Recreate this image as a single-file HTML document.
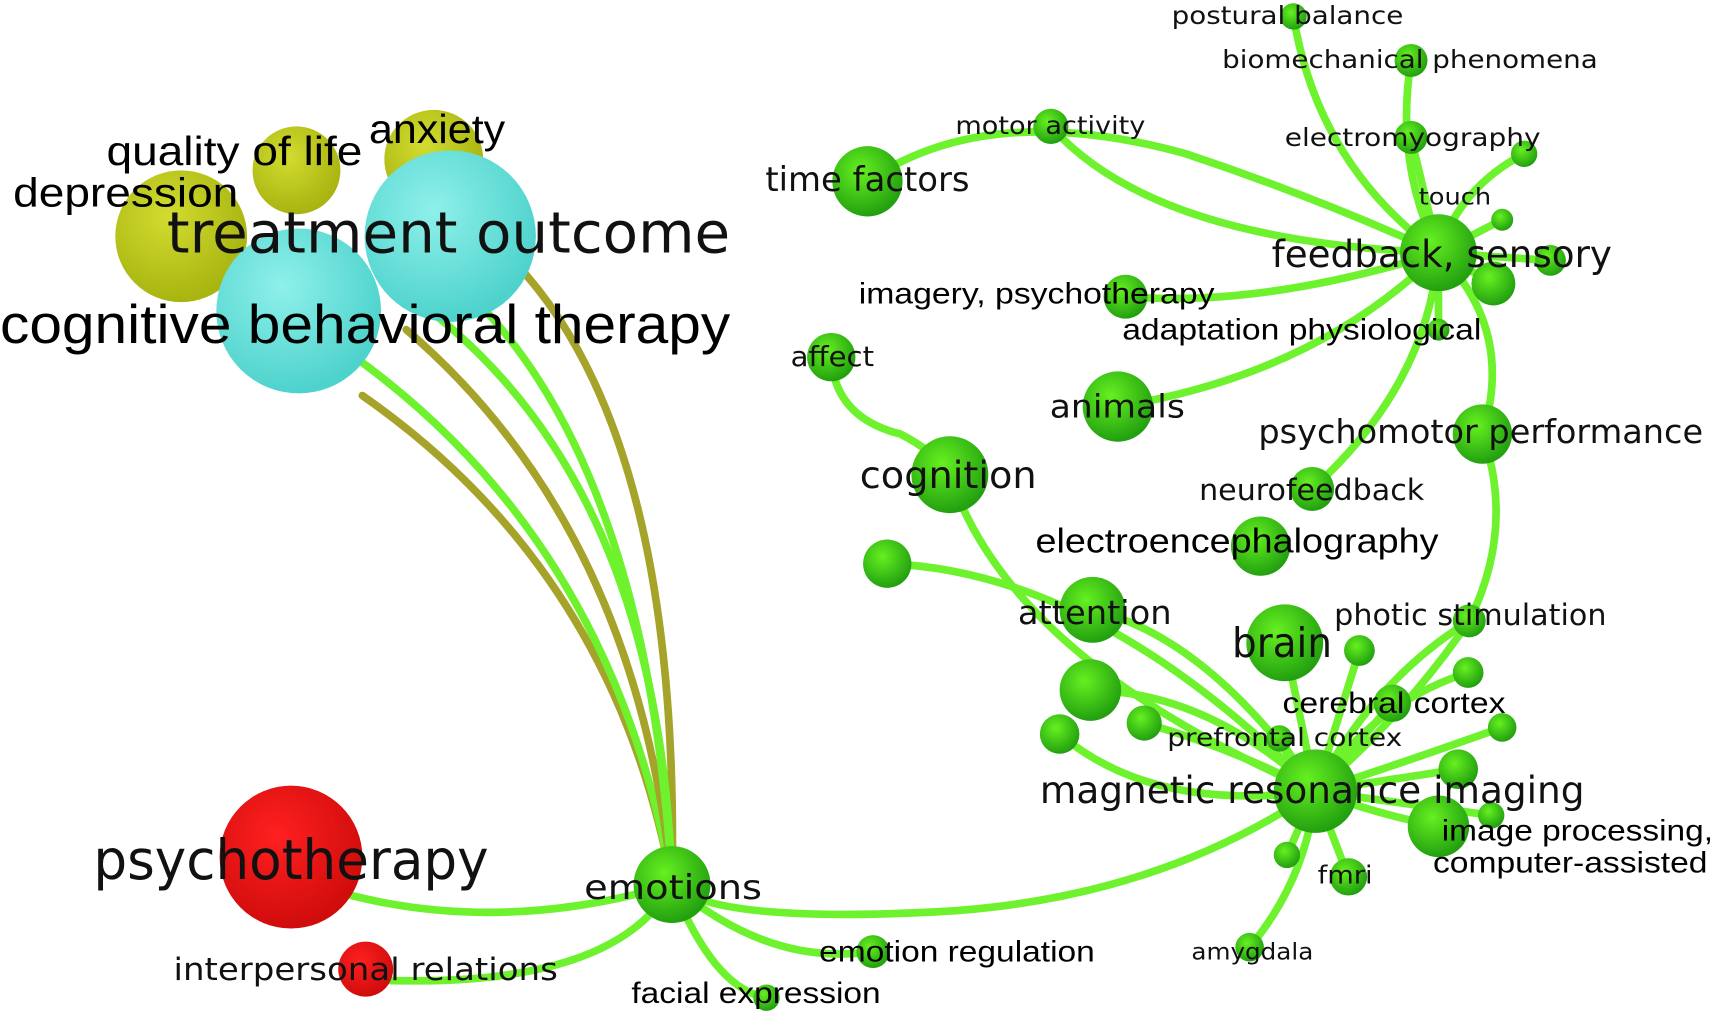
<!DOCTYPE html>
<html><head><meta charset="utf-8"><style>
html,body{margin:0;padding:0;background:#fff;width:1713px;height:1023px;overflow:hidden}
svg{display:block}
.o{font-family:"DejaVu Sans","Liberation Sans",sans-serif;fill:#111}
.a{font-family:"Liberation Sans",sans-serif;fill:#000}
</style></head><body>
<svg width="1713" height="1023" viewBox="0 0 1560 931" preserveAspectRatio="none" xmlns="http://www.w3.org/2000/svg">
<defs>
<radialGradient id="g" cx="40%" cy="35%" r="65%"><stop offset="0" stop-color="#66f020"/><stop offset="1" stop-color="#22a010"/></radialGradient>
<radialGradient id="c" cx="40%" cy="35%" r="65%"><stop offset="0" stop-color="#8ff0ea"/><stop offset="1" stop-color="#4ed2cc"/></radialGradient>
<radialGradient id="y" cx="40%" cy="35%" r="65%"><stop offset="0" stop-color="#d2dc30"/><stop offset="1" stop-color="#a8b410"/></radialGradient>
<radialGradient id="r" cx="40%" cy="35%" r="65%"><stop offset="0" stop-color="#ff2020"/><stop offset="1" stop-color="#d00c0c"/></radialGradient>
</defs>
<g fill="none" stroke="#6ef22e" stroke-width="7" stroke-linecap="round">
<path d="M612 805 Q560 520 330 360" stroke="#a5a32a"/>
<path d="M612 805 Q560 500 330 330"/>
<path d="M612 805 Q580 480 370 300" stroke="#a5a32a"/>
<path d="M612 805 Q590 430 430 270"/>
<path d="M612 805 Q620 400 470 240" stroke="#a5a32a"/>
<path d="M612 805 Q600 420 360 260"/>
<path d="M612 805 Q460 850 320 815"/>
<path d="M612 805 Q560 900 345 892"/>
<path d="M612 805 Q700 880 795 866"/>
<path d="M612 805 Q650 900 698 908"/>
<path d="M612 805 Q650 840 850 830 Q1050 820 1198 720"/>
<path d="M790 165 Q900 90 1080 140 Q1200 180 1310 230"/>
<path d="M957 115 Q1050 220 1310 230"/>
<path d="M1178 15 Q1200 150 1310 230"/>
<path d="M1285 55 Q1270 150 1310 230"/>
<path d="M1285 125 L1310 230"/>
<path d="M1388 140 Q1330 170 1310 230"/>
<path d="M1368 200 L1310 230"/>
<path d="M1360 258 L1310 230"/>
<path d="M1412 237 L1310 230"/>
<path d="M1025 270 Q1150 280 1310 230"/>
<path d="M1310 300 L1310 230"/>
<path d="M1018 370 Q1200 340 1310 230"/>
<path d="M1350 395 Q1380 300 1310 230"/>
<path d="M1195 445 Q1300 350 1310 230"/>
<path d="M1350 395 Q1380 480 1338 565 Q1280 650 1198 720"/>
<path d="M757 325 Q760 380 820 395 Q850 410 865 432"/>
<path d="M865 432 Q920 600 1198 720"/>
<path d="M808 513 Q1000 520 1198 720"/>
<path d="M995 555 Q1100 580 1198 720"/>
<path d="M1170 585 L1198 720"/>
<path d="M1338 565 Q1250 620 1198 720"/>
<path d="M1238 592 L1198 720"/>
<path d="M1337 612 Q1250 640 1198 720"/>
<path d="M993 628 Q1100 630 1198 720"/>
<path d="M1042 658 Q1120 680 1198 720"/>
<path d="M1268 640 L1198 720"/>
<path d="M1368 662 Q1290 690 1198 720"/>
<path d="M965 668 Q1050 740 1198 720"/>
<path d="M1165 672 L1198 720"/>
<path d="M1328 700 L1198 720"/>
<path d="M1310 752 Q1250 740 1198 720"/>
<path d="M1358 742 L1198 720"/>
<path d="M1172 778 L1198 720"/>
<path d="M1228 798 L1198 720"/>
<path d="M1138 862 Q1190 800 1198 720"/>
</g>
<g>
<circle cx="165" cy="215" r="60" fill="url(#y)"/>
<circle cx="270" cy="155" r="40" fill="url(#y)"/>
<circle cx="395" cy="145" r="45" fill="url(#y)"/>
<circle cx="410" cy="215" r="78" fill="url(#c)"/>
<circle cx="272" cy="283" r="75" fill="url(#c)"/>
<circle cx="265" cy="780" r="65" fill="url(#r)"/>
<circle cx="333" cy="882" r="25" fill="url(#r)"/>
<g fill="url(#g)">
<circle cx="612" cy="805" r="35"/><circle cx="790" cy="165" r="32"/><circle cx="957" cy="115" r="16"/>
<circle cx="1310" cy="230" r="35"/><circle cx="1178" cy="15" r="12"/><circle cx="1285" cy="55" r="15"/>
<circle cx="1285" cy="125" r="15"/><circle cx="1388" cy="140" r="12"/><circle cx="1368" cy="200" r="10"/>
<circle cx="1360" cy="258" r="20"/><circle cx="1412" cy="237" r="14"/><circle cx="1025" cy="270" r="20"/>
<circle cx="1310" cy="300" r="10"/><circle cx="757" cy="325" r="22"/><circle cx="1018" cy="370" r="32"/>
<circle cx="865" cy="432" r="35"/><circle cx="1350" cy="395" r="27"/><circle cx="1195" cy="445" r="20"/>
<circle cx="1148" cy="497" r="27"/><circle cx="808" cy="513" r="22"/><circle cx="995" cy="555" r="30"/>
<circle cx="1170" cy="585" r="35"/><circle cx="1338" cy="565" r="15"/><circle cx="1238" cy="592" r="14"/>
<circle cx="1337" cy="612" r="14"/><circle cx="993" cy="628" r="28"/><circle cx="1042" cy="658" r="16"/>
<circle cx="1268" cy="640" r="17"/><circle cx="1368" cy="662" r="13"/><circle cx="965" cy="668" r="18"/>
<circle cx="1165" cy="672" r="12"/><circle cx="1198" cy="720" r="38"/><circle cx="1328" cy="700" r="18"/>
<circle cx="1310" cy="752" r="28"/><circle cx="1358" cy="742" r="12"/><circle cx="1172" cy="778" r="12"/>
<circle cx="1228" cy="798" r="17"/><circle cx="1138" cy="862" r="13"/><circle cx="795" cy="866" r="15"/>
<circle cx="698" cy="908" r="12"/>
</g>
</g>
<g lengthAdjust="spacingAndGlyphs">
<text class="a" x="97" y="150" font-size="37" textLength="233" lengthAdjust="spacingAndGlyphs">quality of life</text>
<text class="a" x="336" y="130" font-size="37" textLength="124" lengthAdjust="spacingAndGlyphs">anxiety</text>
<text class="a" x="12" y="188" font-size="37" textLength="205" lengthAdjust="spacingAndGlyphs">depression</text>
<text class="o" x="152" y="230" font-size="52" textLength="513" lengthAdjust="spacingAndGlyphs">treatment outcome</text>
<text class="a" x="0" y="312" font-size="50" textLength="665" lengthAdjust="spacingAndGlyphs">cognitive behavioral therapy</text>
<text class="o" x="85" y="800" font-size="50" textLength="360" lengthAdjust="spacingAndGlyphs">psychotherapy</text>
<text class="o" x="158" y="892" font-size="28" textLength="350" lengthAdjust="spacingAndGlyphs">interpersonal relations</text>
<text class="o" x="532" y="818" font-size="31" textLength="162" lengthAdjust="spacingAndGlyphs">emotions</text>
<text class="a" x="746" y="875" font-size="27" textLength="251" lengthAdjust="spacingAndGlyphs">emotion regulation</text>
<text class="a" x="575" y="913" font-size="27" textLength="227" lengthAdjust="spacingAndGlyphs">facial expression</text>
<text class="o" x="697" y="174" font-size="31" textLength="186" lengthAdjust="spacingAndGlyphs">time factors</text>
<text class="o" x="870" y="122" font-size="23" textLength="173" lengthAdjust="spacingAndGlyphs">motor activity</text>
<text class="o" x="1067" y="22" font-size="23" textLength="211" lengthAdjust="spacingAndGlyphs">postural balance</text>
<text class="o" x="1113" y="62" font-size="23" textLength="342" lengthAdjust="spacingAndGlyphs">biomechanical phenomena</text>
<text class="o" x="1170" y="133" font-size="23" textLength="233" lengthAdjust="spacingAndGlyphs">electromyography</text>
<text class="o" x="1292" y="186" font-size="21" textLength="66" lengthAdjust="spacingAndGlyphs">touch</text>
<text class="o" x="1158" y="243" font-size="34" textLength="310" lengthAdjust="spacingAndGlyphs">feedback, sensory</text>
<text class="a" x="782" y="276" font-size="27" textLength="324" lengthAdjust="spacingAndGlyphs">imagery, psychotherapy</text>
<text class="a" x="1022" y="309" font-size="27" textLength="327" lengthAdjust="spacingAndGlyphs">adaptation physiological</text>
<text class="o" x="720" y="333" font-size="25" textLength="76" lengthAdjust="spacingAndGlyphs">affect</text>
<text class="o" x="956" y="380" font-size="29" textLength="123" lengthAdjust="spacingAndGlyphs">animals</text>
<text class="o" x="783" y="444" font-size="34" textLength="161" lengthAdjust="spacingAndGlyphs">cognition</text>
<text class="o" x="1146" y="403" font-size="30" textLength="405" lengthAdjust="spacingAndGlyphs">psychomotor performance</text>
<text class="o" x="1092" y="455" font-size="27" textLength="205" lengthAdjust="spacingAndGlyphs">neurofeedback</text>
<text class="a" x="943" y="503" font-size="31" textLength="367" lengthAdjust="spacingAndGlyphs">electroencephalography</text>
<text class="o" x="927" y="568" font-size="30" textLength="140" lengthAdjust="spacingAndGlyphs">attention</text>
<text class="o" x="1122" y="598" font-size="37" textLength="91" lengthAdjust="spacingAndGlyphs">brain</text>
<text class="o" x="1215" y="569" font-size="27" textLength="248" lengthAdjust="spacingAndGlyphs">photic stimulation</text>
<text class="a" x="1168" y="649" font-size="27" textLength="203" lengthAdjust="spacingAndGlyphs">cerebral cortex</text>
<text class="o" x="1063" y="679" font-size="23" fill="#333" textLength="214" lengthAdjust="spacingAndGlyphs">prefrontal cortex</text>
<text class="o" x="947" y="731" font-size="34" textLength="496" lengthAdjust="spacingAndGlyphs">magnetic resonance imaging</text>
<text class="a" x="1313" y="765" font-size="27" textLength="247" lengthAdjust="spacingAndGlyphs">image processing,</text>
<text class="a" x="1305" y="794" font-size="27" textLength="250" lengthAdjust="spacingAndGlyphs">computer-assisted</text>
<text class="o" x="1200" y="804" font-size="23" textLength="50" lengthAdjust="spacingAndGlyphs">fmri</text>
<text class="o" x="1085" y="873" font-size="21" textLength="111" lengthAdjust="spacingAndGlyphs">amygdala</text>
</g>
</svg>
</body></html>
